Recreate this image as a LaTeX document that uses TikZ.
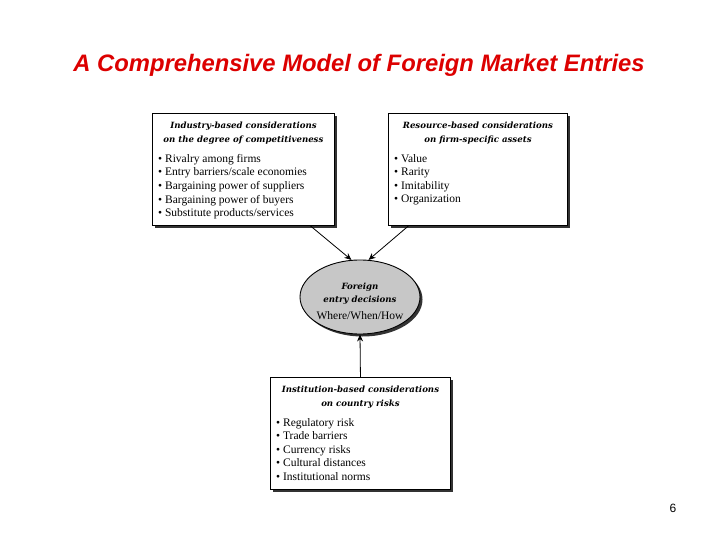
\documentclass[tikz,border=0pt]{standalone}
\usepackage{fontspec}
\setmainfont{Liberation Serif}
\newfontfamily\titlefont{Liberation Sans}
\newfontfamily\headfont{DejaVu Serif}
\usepackage{xcolor}
\usetikzlibrary{arrows.meta,positioning,shapes.geometric,shadows}
\definecolor{titlered}{RGB}{220,0,0}
\newcommand{\hdtext}[1]{{\headfont\fontsize{8.6}{13.6}\selectfont\bfseries\itshape #1}}

\begin{document}
\begin{tikzpicture}[
  x=1pt, y=-1pt,
  font=\fontsize{11.5}{13.6}\selectfont,
  frame/.style={draw, line width=0.9pt, fill=white, inner sep=0pt,
    drop shadow={shadow xshift=2.5pt, shadow yshift=-2.5pt, opacity=1, fill=black!80}},
  hd/.style={align=center, font=\headfont\fontsize{8.6}{13.6}\selectfont\bfseries\itshape, inner sep=0pt},
  items/.style={align=left, inner sep=0pt},
  arr/.style={-{Stealth[length=7pt,width=6pt]}, line width=0.8pt},
]
\useasboundingbox (0,0) rectangle (720,540);

% --- title ------------------------------------------------------------------
\node[font=\titlefont\bfseries\itshape\fontsize{23.8}{28}\selectfont, text=titlered] (title) at (359,65)
  {A Comprehensive Model of Foreign Market Entries};

% --- top row: industry and resource boxes -----------------------------------
\node[frame, minimum width=182pt, minimum height=112pt, anchor=north west] (ind) at (152,113) {};
\node[hd, below=9pt of ind.north] (indhd) {Industry-based considerations\\on the degree of competitiveness};
\node[items, below right=41pt and 6pt of ind.north west] (inditems)
  {\textbullet\ Rivalry among firms\\\textbullet\ Entry barriers/scale economies\\\textbullet\ Bargaining power of suppliers\\\textbullet\ Bargaining power of buyers\\\textbullet\ Substitute products/services};

\node[frame, minimum width=179pt, minimum height=112pt, anchor=north west] (res) at (388,113) {};
\node[hd, below=9pt of res.north] (reshd) {Resource-based considerations\\on firm-specific assets};
\node[items, below right=41pt and 6pt of res.north west] (resitems)
  {\textbullet\ Value\\\textbullet\ Rarity\\\textbullet\ Imitability\\\textbullet\ Organization};

% --- decision ellipse -------------------------------------------------------
\node[frame, ellipse, fill=black!22, minimum width=120pt, minimum height=74pt] (dec) at (360,297) {};
\node[align=center, inner sep=0pt] (dectext) at ([yshift=-4pt]dec.center)
  {\hdtext{Foreign}\\\hdtext{entry decisions}\\[3pt]Where/When/How};

% --- bottom box ---------------------------------------------------------------
\node[frame, minimum width=180pt, minimum height=112pt, anchor=north west] (inst) at (270,377) {};
\node[hd, below=9pt of inst.north] (insthd) {Institution-based considerations\\on country risks};
\node[items, below right=41pt and 6pt of inst.north west] (institems)
  {\textbullet\ Regulatory risk\\\textbullet\ Trade barriers\\\textbullet\ Currency risks\\\textbullet\ Cultural distances\\\textbullet\ Institutional norms};

% --- page number ------------------------------------------------------------
\node[font=\titlefont\fontsize{12}{14}\selectfont] (pnum) at (673,508) {6};

% --- arrows -----------------------------------------------------------------
\draw[arr] ([xshift=67pt]ind.south) -- (dec.103);
\draw[arr] ([xshift=-69.5pt]res.south) -- (dec.77);
\draw[arr] (inst.north) -- (dec.south);
\end{tikzpicture}
\end{document}
